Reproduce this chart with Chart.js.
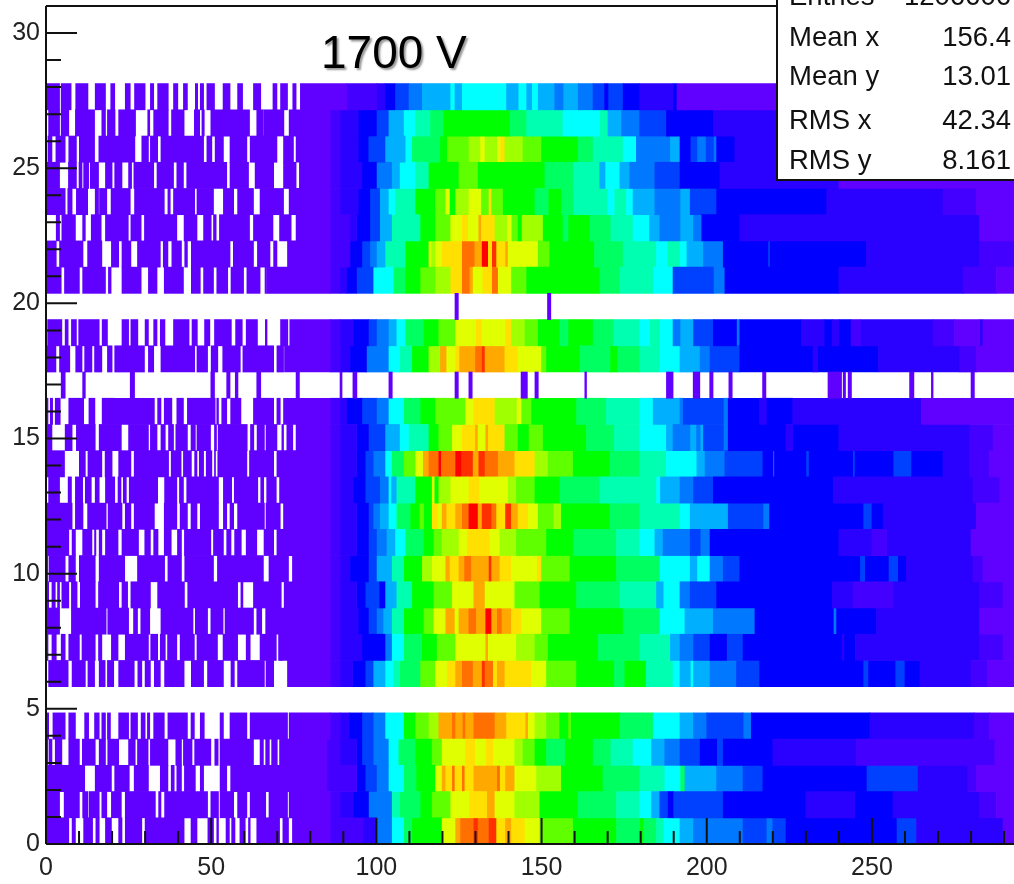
<!DOCTYPE html>
<html>
<head>
<meta charset="utf-8">
<script src="https://cdn.jsdelivr.net/npm/chart.js@4"></script>
<style>
html,body{margin:0;padding:0;background:#fff;overflow:hidden}
#wrap{position:relative;width:1014px;height:884px;overflow:hidden;font-family:"Liberation Sans",Arial,sans-serif}
canvas{position:absolute;left:0;top:0;filter:blur(.45px)}
#title{position:absolute;left:321px;top:24px;font-size:46px;line-height:56px;color:#000;white-space:pre;text-shadow:2px 2px 2px #999}
#stats{position:absolute;left:776px;top:-20px;width:240px;height:201px;box-sizing:border-box;background:#fff;border:2px solid #111;filter:blur(.35px)}
#stats div{position:absolute;left:11px;right:3px;font-size:27.5px;line-height:28px;color:#111;display:flex;justify-content:space-between}
</style>
</head>
<body>
<div id="wrap">
<canvas id="c" width="1014" height="884"></canvas>
<div id="title">1700 V</div>
<div id="stats"></div>
</div>
<script>
// ---- axis labels and tick positions
const xTickLabels=[0,50,100,150,200,250];
const yTickLabels=[0,5,10,15,20,25,30];
const xMinorTicks=[10,20,30,40,60,70,80,90,110,120,130,140,160,170,180,190,210,220,230,240,260,270,280,290];
const yMinorTicks=[1,2,3,4,6,7,8,9,11,12,13,14,16,17,18,19,21,22,23,24,26,27,28,29];
const xMax=293, yMax=31, binHeight=0.97;

// ---- colour level (z) palette
const palette=['#6000ff','#4400ff','#2a00ff','#0000ff','#0040ff','#0078ff','#00b0ff','#00ffff','#00ffb0','#00ff60','#00ff00','#60ff00','#a0ff00','#e0ff00','#ffe000','#ffa800','#ff7000','#ff3000','#ff0000'];

// ---- stats box
const statNames=['Entries','Mean x','Mean y','RMS x','RMS y'];
const statValues=['1206606','156.4','13.01','42.34','8.161'];

// ---- sparse low-count bins per row: pairs of [from,to] at the lowest level
const low0=[0,6.9,7.9,8.9,11.4,14.1,15.1,16.1,18,19.8,22,23,24,29,30,41.8,43.9,45.7,49,50.7,51.7,52.2,54.5,55.5,56.2,57.2,58.7,60.3,61.3,61.8,63.8,70.7,71.7,73.4];
const low1=[0,4.1,5.5,10.1,11.1,12.6,13,16.1,16.9,18.4,19.8,22.8,24,33.1,34.1,34.8,35.9,48.9,49.9,52.2,52.7,56.8,58,60.8,61.8,66.5,67.5,73.1];
const low2=[0,11.7,14.9,19.8,20.8,25.2,26.7,31,34.6,36.9,37.9,38.8,39.6,41,41.9,45.2,46.7,47.7,52.7,54.7];
const low3=[0,0.6,1,1.8,2.8,4.8,6.9,10.1,11,14.9,16.1,18,18.7,22,25,27,27.7,30.9,31.6,36.9,39.3,41,41.6,44.2,45,49.9,51.1,52.1,52.7,62.8,64.8,65.8,66.5,67.6,68.3,70];
const low4=[0.3,0.8,2.1,5.8,6.9,8.9,11.7,12.9,14.7,16.1,16.9,18,18.6,19.5,22,25,25.7,27.7,28.8,30,30.7,31.4,32.6,35.8,36.9,42.8,43.9,44.9,46.7,47.9,52.7,53.7,55.7,60.8,61.8,73.1];
const low5=[];
const low6=[0.8,6.7,7.9,11.9,12.7,14.7,16.1,17.9,18.6,20.5,22,26.7,27.8,29,30,31.6,32.8,34.6,35.9,41.8,44,47.7,48.9,53.7,56,57,58,66.1,66.6,68.9];
const low7=[0,0.6,1.8,3.1,4.6,5.8,6.9,10.1,10.9,14.9,15.9,16.9,19.8,21.8,24,31,31.7,33.8,34.6,36.1,36.8,39.6,40.6,44.9,45.7,51.9,53.6,58,60.6,61.8,64.8,69.7,70.4,71.4];
const low8=[0,4.1,7.7,18.2,18.7,25,26.5,27.7,28.7,31.4,34.8,44.5,45.2,48.9,49.9,53.6,54.2,62.8,63.8,65.3];
const low9=[0,0.8,1.8,2.8,3.5,4.1,4.8,6.9,7.7,9.4,10.4,14.9,15.9,22,23,24.7,25.7,31.6,33.8,41.9,42.9,58,59,59.6,62.8,71.2];
const low10=[0,0.6,1,5.8,6.9,8.9,10.1,14.9,16.1,23.8,27.7,35.9,36.9,41,42,50.7,51.9,65.8,67.5,73.4];
const low11=[0,6.9,7.9,8.9,11.1,13.9,14.7,15.1,16.1,16.9,18,21.8,23,28,29.9,31.6,32.6,33.9,35.8,37.9,39.8,41,41.9,49.9,50.7,53.7,54.7,56,57.1,59.1,60.6,63.8,66,68.9,70.9,73.1];
const low12=[0,7.9,8.9,11.2,12.6,18.2,18.8,23,24,25.7,26.7,32.8,35.8,39.6,40.6,42.8,43.9,45.7,46.7,52.2,53.7,54.7,55.7,56.8,58,66.1,66.6,70.9];
const low13=[0.8,4.1,6.7,7.7,8.9,11.1,11.9,13.7,14.9,16.1,18,20.8,21.8,22.7,23.4,24.3,25.2,33.8,35.9,39.6,40.4,41.6,42.6,52.2,53.7,56.2,57,64.1,65,65.9,66.8,69.7];
const low14=[0,5.6,10.1,11.9,12.7,16.9,17.9,20,22,25.7,26.7,37.1,37.9,40.9,41.6,44,45,45.7,46.4,47.7,48.5,50.2,51,51.3,52,60.8,61.6,68.9];
const low15=[0,1.8,5.8,7.9,9.2,14.9,16.1,22.8,25,31,31.6,33.6,34.8,36.1,37.1,38.6,39.3,42.8,43.9,45.2,45.7,49.8,51,51.6,52.1,60.9,61.9,62.9,63.9,66.1,66.6,69.9,71.4,71.9,72.9,74.7];
const low16=[0,0.6,1.3,2,2.8,4.3,6.9,11.4,13,14.8,17,20.7,20.7,32.8,33.8,34.8,35.8,38.1,39.6,41.6,42.8,51.2,51.7,52.2,53.2,54.7,55.9,59,62.8,68.9,69.9,70.9];
const low17=[4.6,5.8,11.1,11.9,25.5,26.8,49.9,51,54.7,55.7,57.3,58.1,63.8,65,75.7,76.7,89,89.6,92.9,94.1,103.8,104.8,123.8,124.8,128,129,143.8,145.7,148,149,163.1,163.6,187.8,189.8,195.9,197.9,200.9,201.9,206.7,207.7,216.9,217.9,236.7,240.8,241.3,242,242.8,243.8,261.4,262.7,268,268.5,280,281];
const low18=[0,3,4.1,7.2,9,10.9,11.7,13.9,14.7,16.9,18.6,20,20.8,29.8,31,32.6,34.8,45,45.7,48.9,50,52,53.5,58.8,59.6,68.9,69.9,71.9];
const low19=[0.5,4.8,5.8,6.7,7.7,9.2,9.9,16.1,17,18.6,23,25,25.7,27.8,30,31,32.6,33.6,34.6,36,38.6,43.3,44.2,45.8,48,49.6,51,56.1,57.4,59.4,60.6,64,66.4,66.9,71,73.2];
const low20=[123.8,124.8,151.8,152.8];
const low21=[0,4.6,5.6,10.1,11.1,18,18.9,19.7,23,28.8,31,33.6,35.8,41.6,44,46.7,47.7,50.7,51.7,55,56,59.8,60.8,64.8,66.3,66.7];
const low22=[0,3.1,4.1,11.2,12.6,16.9,19.8,22,23,25.7,27.7,34.6,35.5,36.9,38.1,41,42,42.8,44,55.7,56.7,62.8,64,67.8,68.9,69.9];
const low23=[3.1,4.1,4.8,8.9,11.1,11.9,13.7,16.7,18,24.9,25.7,28.8,29.8,39.6,41.8,45.7,47.7,50,50.7,51.5,52.5,61.6,62.8,68.7,70.7,74.2];
const low24=[0,5.8,6.6,7.9,9.2,12.6,14.9,15.9,16.2,18.4,19.7,25.5,26.8,35.8,36.9,37.6,38.6,45,45.7,50.7,53.7,56.8,58,62.8,64.8,71.9];
const low25=[0,4.1,6.8,9.2,10,10.9,11.4,12.9,13.4,15.9,18,20,20.8,23,25,25.9,26.6,32.6,33.6,38.6,39.6,41.6,42.6,54.7,55.7,61.3,63.3,68.9,71.9,75.7];
const low26=[0.6,1.8,3,5.8,6.9,9.2,10.1,14.7,16,26.9,29,31,31.6,33.8,34.8,47.7,48.7,50.2,51.2,53.7,55.7,60.8,61.8,69.9,71.9,74.9];
const low27=[0.8,4.1,4.6,6.9,8.9,14.7,16.9,18,18.6,20.9,22,27.1,30.8,31.4,32.6,37,38,41.8,44.9,46.5,47.2,47.9,49.9,61.6,63.8,65.8,66,72];
const low28=[0,4.1,4.6,7.6,9,12.7,14.9,18,19.6,20.8,24,25.5,26.8,30,31.6,32.6,33.8,37,38.6,39.9,41.6,42.8,45.2,45.9,46.7,47.7,48.7,51,53.6,55.7,58,59.5,62.8,65,68.7,69.9,71,73.1,74.7,75.7];

// ---- filled runs per row: x where a level starts, then that level
const run0=[74.6,0,86,1,96,2,100,5,104.6,7,108.2,9,110.7,10,119.7,13,123.8,15,125.3,16,129.3,17,130.8,16,133.9,17,136.4,14,138.9,15,140.9,14,145,13,149.5,11,159.6,10,172.7,9,179.7,10,180.8,9,184.8,8,187,7,191.9,6,196,5,211,4,218,5,220,4,224,3,257.4,4,263.5,2,289.7,0];
const run1=[73.6,0,86,1,89,2,93,3,97.6,5,104.6,8,107,9,113.2,10,116.7,11,122.3,13,128,14,133.4,15,135.9,13,141.9,12,149.5,10,161,9,172.7,8,179.7,7,183.3,6,185.8,4,188.3,3,189.8,4,205,3,230,2,244.8,3,256.4,2,282.6,1,287.7,0];
const run2=[55.9,0,85,1,94,3,96.6,4,100,5,103.6,7,108.2,9,112,10,117.7,13,119.7,15,121,14,122.8,16,123.8,14,125.8,16,126.8,14,129.3,15,136.4,16,137.5,14,138.9,15,141.9,13,148.5,12,156,10,168.6,9,179.7,8,187.3,7,191.9,9,193.4,6,203,5,211,4,217,3,248.3,4,264,2,279,1,281.6,0];
const run3=[70.7,0,85,1,89,2,94,3,95.6,4,99,5,103.6,7,106.6,9,111.7,10,116.7,11,119.7,13,126.8,14,130,13,133,14,135.4,13,141.9,12,144.4,11,148,10,151.5,9,157,10,165.6,9,171,8,177.7,7,183.3,6,187.3,5,191.9,4,198,3,203,4,205,3,220,2,245.3,1,287.2,0];
const run4=[73.6,0,86,1,89,2,91.8,3,95.6,4,99,5,102.6,7,108.2,10,111.7,11,115.7,12,118.7,15,122.8,16,124,15,126,16,127,15,129.3,16,135.9,15,139.4,14,145,15,146,13,148,12,151.5,11,155.5,10,158,11,159,10,173.7,9,183.8,7,191.9,6,196,5,200,4,211,5,213.5,3,249.4,2,281,1,285.6,0];
const run5=[];
const run6=[73.1,0,86,1,89,2,92.8,3,96.6,4,99,6,102.6,7,105,8,107,9,113.2,11,117.7,13,121.3,14,123.8,15,125.8,16,129.3,15,131.8,17,132.9,16,135.4,14,136.4,15,138.9,14,147,13,151.5,11,160.6,10,172,9,175,10,181.7,8,189.8,7,191.9,6,195,7,196,6,201,5,209,4,216,3,247.3,4,249,3,257,4,260,3,264.5,2,280,1,285,0];
const run7=[71.1,0,86,1,89,2,95.6,3,102.6,5,104.6,7,108.2,9,113.7,10,118.2,11,123.8,13,132.9,15,133.9,13,142.4,12,148,11,152,10,167.1,9,179.7,8,189,6,191.9,5,196,4,201,3,206,4,211,3,241,2,241.5,3,245,2,282.6,1,289.7,0];
const run8=[66.5,0,86,1,89,2,94.5,3,97.6,4,100,5,102,6,104.6,8,108.2,10,114.2,11,117.2,13,120.8,15,123.8,13,124.8,15,127.8,16,130.3,15,132.9,18,134.9,15,136.4,16,138,15,140.9,14,144,13,150,11,158.6,10,174.7,9,185.8,7,193.4,6,202,5,214.6,3,238.3,5,239.3,3,251.4,2,282.6,0];
const run9=[72.1,0,86,1,89,2,94,3,96.6,4,101,3,102.6,6,106,8,110.7,10,117.2,11,122.8,13,129.3,15,132.9,13,141.9,11,149.5,10,160.6,9,173.7,8,184.8,6,186.8,7,191.9,5,195,4,203,3,238,2,244.3,1,256.4,2,282.6,1,289.7,0];
const run10=[74.6,0,86,1,89,2,92,3,97.6,4,100,6,104.6,8,108.2,10,113.7,12,116.7,13,120.8,15,122.3,14,124.8,15,126.5,16,128.8,15,133.9,17,134.9,15,137.4,14,140.9,13,148.5,14,150,11,158.6,10,172.7,9,185.8,7,195,6,197,7,201,5,205,4,210,3,246.3,4,248,3,255,4,258,3,260.4,2,280.6,1,283.6,0];
const run11=[69.9,0,86,1,89,2,94,3,97.6,4,100,5,103,6,105.6,7,108.7,9,114.2,10,117.2,11,119.7,12,124.8,13,127.3,14,134.4,13,137.4,12,142.4,11,151.5,10,159.6,9,172.7,8,179.7,7,184.3,6,186.8,5,195,4,198,5,201,3,240,2,250,1,254.4,2,280,0];
const run12=[71.9,0,86,1,89,2,94,3,97.6,4,99,5,101,6,103.6,7,106,9,110.2,10,113,11,114.5,10,116.7,14,118.7,13,119.7,15,121.3,14,123.8,15,125.8,16,127.8,18,130.8,15,131.8,17,134.9,16,136.4,14,138.9,17,140.9,15,142.9,14,146,13,149,11,153.5,12,156,10,170.7,9,179.7,8,191.9,7,195,6,206.5,4,217,5,219,3,247.3,4,250,3,253.4,2,281.6,0];
const run13=[70.7,0,86,1,89,2,93,3,96.6,4,101,5,103.6,7,104.6,6,106,8,111.7,10,116.7,13,117.7,10,118.7,12,122.3,13,127.8,14,131.3,13,139.9,12,142.4,11,148,10,155.5,9,167.6,8,184.8,7,186,6,191.9,5,196,4,202,3,238.3,2,280.6,1,288.7,0];
const run14=[69.9,0,86,1,89,2,94,3,96.6,4,99,5,102.6,7,104.6,9,108.2,11,111.7,13,114,15,115.7,16,118.7,18,119.7,16,123.8,18,125.8,17,129.3,15,130.8,17,132.9,16,136.9,15,141.9,14,148,12,152,11,159.6,10,170.7,9,179.7,8,187.8,7,197,6,199.5,5,205.5,4,217,3,220,5,220.5,3,230,4,231,3,244.3,5,244.8,3,256.4,4,262,3,271.5,2,279.6,1,285.6,0];
const run15=[75.7,0,86,1,89,2,94,3,97.6,4,102.6,6,107,7,109.7,8,115.7,10,118.7,11,122.8,13,125.8,14,129.8,15,130.8,13,132.9,15,133.9,14,138.9,11,142.9,10,146,11,150.5,10,163.6,9,172,8,179.7,7,187.8,6,189.8,5,194.9,6,196.9,5,198,6,199,4,205,5,206.5,3,224,2,226,3,240,2,279.6,1,286.7,0];
const run16=[71.9,0,86,1,89,2,91,3,95.6,4,100,5,103.6,7,108.2,9,113.2,10,117.7,11,126.8,13,129.3,14,135.9,12,142.4,13,144,11,147,10,160.6,9,169.6,8,179.7,7,183.8,6,191.9,5,192.9,4,205,5,206.5,3,216,2,218,3,226,2,265,0];
const run17=[];
const run18=[72.2,0,86,1,89,2,92,3,97,5,103.6,7,107,8,110.7,10,115.7,12,119.2,15,121.3,13,123.8,14,125,15,129.8,16,131.8,17,132.9,15,138.9,14,142.9,13,150,11,151.5,10,161.6,9,170.7,10,173,9,179.7,8,185.8,7,191.9,6,198,5,201,4,210,3,232.2,2,233.5,3,252,2,276.6,1,281.6,0];
const run19=[73.8,0,86,1,89,2,93,3,97.6,4,100,5,103.6,6,106,7,108.7,9,114.2,10,118.7,11,123.8,13,130,14,132,13,138.9,14,140.9,12,145,11,149,10,155.5,9,158,10,165.6,9,171.7,8,179.7,7,182.7,8,185.8,7,189.8,5,191.9,6,196,4,202,3,209,5,210,3,228.7,2,235.5,3,238,2,240,3,243.7,1,246.5,2,268.5,1,275,0,282.6,2,283.6,0];
const run20=[];
const run21=[66.8,0,86,1,89,2,91,3,94,4,99,7,105.1,9,108.7,10,113.2,11,117.7,12,122.3,14,125.8,16,128.3,15,129.3,13,132,14,134.9,16,136.9,13,140.9,11,145.5,10,167.6,9,173.7,8,183.8,7,189.8,4,202,5,205.5,3,240,2,277.6,1,287.7,0];
const run22=[73.1,0,86,1,92,3,95.6,4,98,5,100,6,102.6,8,108.7,10,115.7,13,116.7,12,117.7,13,119.7,14,125.8,16,129.8,15,131.8,18,133.9,14,134.9,17,136.4,14,138.9,15,139.9,13,149,11,152.5,10,166,9,174.7,8,184.8,7,188,8,191.9,7,194,6,199,5,205,3,218.6,5,219.1,3,248.3,2,282.6,1];
const run23=[75.7,0,86,1,92,2,94,3,98,4,101,6,104.6,8,113.2,10,117.7,11,122.3,13,125.8,14,127.8,13,130.8,15,131.8,14,135.9,12,139.4,13,141,11,142.9,10,143.9,12,150.5,10,156.5,9,158,10,164.6,9,171,8,177.7,7,182.7,6,185.8,5,191.9,6,196,5,198.5,3,210,2,282.6,0];
const run24=[73.6,0,86,1,89,2,94.5,3,98,4,101,6,103.6,7,105.6,8,111.7,10,117.7,11,120.8,13,122.3,10,123.8,12,127.8,13,131.8,11,133.9,14,134.9,11,138.4,10,148,9,152,10,156,9,159.6,8,170,7,172,8,175.7,7,177.7,6,184.3,5,191.9,6,195,4,203,3,236.3,2,271.5,1,281.6,0];
const run25=[76.7,0,86,1,89,2,95.6,3,100,5,104.6,6,107,7,111.7,8,115.7,10,124.8,11,130.8,10,151,9,159.6,8,167.6,6,169.2,7,173.7,6,176.7,5,184.3,4,191.9,3,204,2,240,0];
const run26=[75.7,0,86,1,89,2,94.5,3,97.5,4,102.6,6,108.7,7,110.7,9,119.2,10,121.3,11,127.8,12,131.3,13,132.9,12,136.4,13,137.4,14,138.9,12,144.4,11,150,10,161.1,9,165.6,8,174.7,7,178.7,5,188.8,6,191.9,3,195,4,197,5,199.8,4,202,5,203,3,208.5,2,240,0];
const run27=[73.6,0,86,1,89,2,94.5,3,100,4,103.6,6,108.2,7,111.7,8,116.2,9,120.2,10,140.4,9,145.5,8,156.5,7,167.6,8,170.1,6,174.2,5,179.7,4,187.8,3,202,2,221,1,240,0];
const run28=[77,0,91,1,100.1,2,102.6,3,105.6,4,109.7,5,113.7,6,122.3,7,123.8,6,125.8,7,139.4,6,142.9,7,145.5,6,147,7,149,6,154,5,156.5,6,161.1,5,165.6,4,169.1,3,170.1,4,174.7,3,179.7,2,189.8,3,191,0];

const lowRows=[low0,low1,low2,low3,low4,low5,low6,low7,low8,low9,low10,low11,low12,low13,low14,low15,low16,low17,low18,low19,low20,low21,low22,low23,low24,low25,low26,low27,low28];
const runRows=[run0,run1,run2,run3,run4,run5,run6,run7,run8,run9,run10,run11,run12,run13,run14,run15,run16,run17,run18,run19,run20,run21,run22,run23,run24,run25,run26,run27,run28];

const datasets=palette.map(c=>({backgroundColor:c,borderWidth:0,inflateAmount:0.35,barPercentage:1,categoryPercentage:1,grouped:false,data:[]}));
lowRows.forEach((low,r)=>{
  const y=(r+0.5)*binHeight;
  for(let i=0;i<low.length;i+=2) datasets[0].data.push({x:[low[i],low[i+1]],y});
});
runRows.forEach((run,r)=>{
  const y=(r+0.5)*binHeight;
  for(let i=0;i<run.length;i+=2){
    const end=i+2<run.length?run[i+2]:xMax;
    if(end>run[i]) datasets[run[i+1]].data.push({x:[run[i],end],y});
  }
});

const statsBox=document.getElementById('stats');
const statBaselines=[6,47,86,130,170];
statNames.forEach((n,i)=>{
  const d=document.createElement('div');
  d.style.top=(statBaselines[i]+20-2-24)+'px';
  d.innerHTML='<span>'+n+'</span><span>'+statValues[i]+'</span>';
  statsBox.appendChild(d);
});

const frameTicks={id:'frameTicks',afterDatasetsDraw(chart){
  const {ctx,chartArea:a,scales:{x,y}}=chart;
  ctx.save();
  ctx.strokeStyle='#111';
  ctx.lineWidth=2;
  ctx.beginPath();
  ctx.moveTo(a.left,a.top);ctx.lineTo(a.right,a.top);
  ctx.moveTo(a.left,a.top);ctx.lineTo(a.left,a.bottom);
  ctx.moveTo(a.left,a.bottom);ctx.lineTo(a.right,a.bottom);
  xMinorTicks.forEach(v=>{const p=x.getPixelForValue(v);ctx.moveTo(p,a.bottom);ctx.lineTo(p,a.bottom-13);});
  xTickLabels.forEach(v=>{const p=x.getPixelForValue(v);ctx.moveTo(p,a.bottom);ctx.lineTo(p,a.bottom-26);});
  yMinorTicks.forEach(v=>{const p=y.getPixelForValue(v);ctx.moveTo(a.left,p);ctx.lineTo(a.left+15,p);});
  yTickLabels.forEach(v=>{const p=y.getPixelForValue(v);ctx.moveTo(a.left,p);ctx.lineTo(a.left+31,p);});
  ctx.stroke();
  ctx.restore();
}};

const tickFont={family:'"Liberation Sans",Arial,sans-serif',size:25};
new Chart(document.getElementById('c'),{
  type:'bar',
  data:{datasets},
  plugins:[frameTicks],
  options:{
    indexAxis:'y',
    responsive:false,
    animation:false,
    layout:{padding:{top:6,left:0,right:0,bottom:0}},
    plugins:{legend:{display:false},title:{display:false},tooltip:{enabled:false}},
    scales:{
      x:{type:'linear',min:0,max:xMax,offset:false,
        grid:{display:false,drawTicks:false},border:{display:false},
        afterBuildTicks:s=>{s.ticks=xTickLabels.map(value=>({value}));},
        afterFit:s=>{s.height=40;s.paddingLeft=0;s.paddingRight=0;},
        ticks:{color:'#222',font:tickFont,padding:9,autoSkip:false,maxRotation:0}},
      y:{type:'linear',min:0,max:yMax,offset:false,
        grid:{display:false,offset:false,drawTicks:false},border:{display:false},
        afterBuildTicks:s=>{s.ticks=yTickLabels.map(value=>({value}));},
        afterFit:s=>{s.width=46;s.paddingTop=0;s.paddingBottom=0;},
        ticks:{color:'#222',font:tickFont,padding:6,autoSkip:false}}
    }
  }
});
</script>
</body>
</html>
